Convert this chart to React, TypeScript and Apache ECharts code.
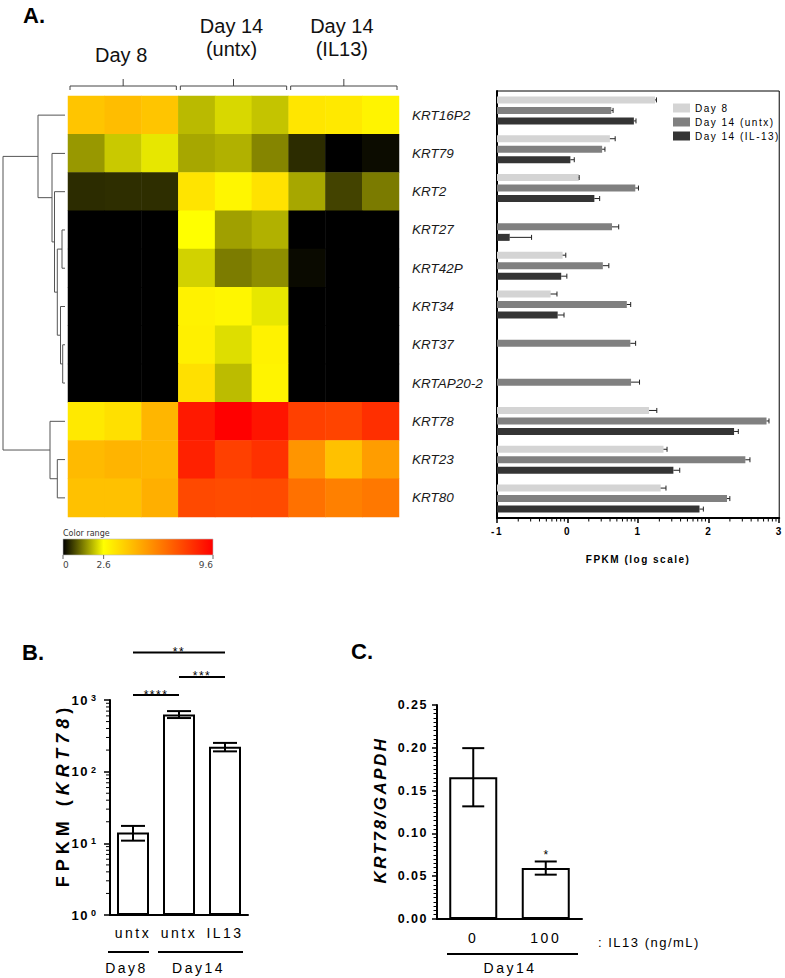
import React, { useEffect, useRef } from "react";
import * as echarts from "echarts";

// ---------------- data ----------------
const genes = ["KRT16P2", "KRT79", "KRT2", "KRT27", "KRT42P", "KRT34", "KRT37", "KRTAP20-2", "KRT78", "KRT23", "KRT80"];
const heatSamples = ["D8-1", "D8-2", "D8-3", "U-1", "U-2", "U-3", "I-1", "I-2", "I-3"];
const heatGroupLabels = ["Day 8", "Day 14\n(untx)", "Day 14\n(IL13)"];
const heatValues = [
  [4.2, 4.4, 4.2, 1.9, 2.2, 2.0, 3.3, 3.2, 2.9],
  [1.55, 2.05, 2.35, 1.7, 1.8, 1.35, 0.45, 0.0, 0.12],
  [0.45, 0.47, 0.47, 3.35, 2.85, 3.4, 1.7, 0.68, 1.25],
  [0, 0, 0, 2.6, 1.63, 1.8, 0, 0, 0],
  [0, 0, 0, 2.14, 1.26, 1.45, 0.1, 0, 0],
  [0, 0, 0, 2.95, 2.85, 2.35, 0, 0, 0],
  [0, 0, 0, 3.0, 2.26, 2.95, 0, 0, 0],
  [0, 0, 0, 3.45, 1.92, 2.9, 0, 0, 0],
  [3.2, 3.45, 4.6, 8.9, 9.6, 9.05, 7.85, 7.75, 8.3],
  [4.5, 4.65, 4.6, 8.7, 7.85, 8.25, 5.5, 4.3, 5.3],
  [4.3, 4.3, 4.8, 7.6, 7.5, 7.55, 6.5, 6.1, 6.3],
];
const colorRangeTicks = [0, 2.6, 9.6];
// dendrogram merges: [childA, childB, height]; leaves 0..10, new nodes numbered from 11
const dendroMerges: [number, number, number][] = [
  [6, 7, 2.3],
  [5, 11, 4.5],
  [3, 4, 3],
  [13, 12, 7.7],
  [2, 14, 10.5],
  [1, 15, 13],
  [0, 16, 27],
  [9, 10, 7.7],
  [8, 18, 15],
  [17, 19, 62],
];

const barSeriesNames = ["Day 8", "Day 14 (untx)", "Day 14 (IL-13)"];
const day8Log = [1.24, 0.6, 0.16, null, -0.07, -0.24, null, null, 1.155, 1.36, 1.32];
const day8Err = [0.02, 0.075, 0.005, null, 0.045, 0.09, null, null, 0.11, 0.05, 0.075];
const untxLog = [0.62, 0.49, 0.96, 0.63, 0.5, 0.84, 0.89, 0.9, 2.82, 2.52, 2.26];
const untxErr = [0.025, 0.04, 0.045, 0.095, 0.085, 0.055, 0.075, 0.12, 0.035, 0.065, 0.04];
const il13Log = [0.94, 0.04, 0.38, -0.82, -0.09, -0.14, null, null, 2.36, 1.5, 1.87];
const il13Err = [0.03, 0.055, 0.075, 0.31, 0.08, 0.09, null, null, 0.06, 0.09, 0.055];
const fpkmAxisMin = -1;
const fpkmAxisMax = 3;

const bCategories = ["untx", "untx", "IL13"];
const bGroups = ["Day8", "Day14"];
const bMeans = [14.2, 630, 222];
const bSem = [3.3, 70, 30];
const bSig: [number, number, number, string][] = [
  [0, 2, 4600, "**"],
  [1, 2, 2100, "***"],
  [0, 1, 1170, "****"],
];

const cCategories = ["0", "100"];
const cMeans = [0.1656, 0.0595];
const cSem = [0.034, 0.0077];
const cStars = ["", "*"];

// ---------------- styles ----------------
const FONT = "'Liberation Sans', Arial, sans-serif";
const FA = "xspa, 'Liberation Sans', Arial, sans-serif"; // letter-spaced 1.5px
const FB = "xspb, 'Liberation Sans', Arial, sans-serif"; // letter-spaced 2.5px
const FT = "xspt, 'Liberation Sans', Arial, sans-serif"; // letter-spaced 5px
const css = `
text[style*="xspa"]{letter-spacing:1.5px}
text[style*="xspb"]{letter-spacing:2.5px}
text[style*="xspt"]{letter-spacing:5px}
text[font-family*="xspa"]{letter-spacing:1.5px}
text[font-family*="xspb"]{letter-spacing:2.5px}
text[font-family*="xspt"]{letter-spacing:5px}
`;
const barColors = ["#d4d4d4", "#808080", "#343434"];
const SHIFT = -fpkmAxisMin; // bars grow from the axis minimum
const BAR_W = 7;
const BAR_STEP = 10.5;
const HM = { left: 68, top: 96, width: 331, height: 421 };

function heatColor(v: number) {
  if (v <= 2.6) {
    const t = Math.round((255 * v) / 2.6);
    return `rgb(${t},${t},0)`;
  }
  const g = Math.round(255 * (1 - (v - 2.6) / 7));
  return `rgb(255,${Math.max(0, g)},0)`;
}

function measure(str: string, font: string, spacing: number) {
  const ctx = document.createElement("canvas").getContext("2d")!;
  ctx.font = font;
  return ctx.measureText(str).width + spacing * str.length;
}

function buildOption() {
  // dendrogram links
  const nodeY: number[] = genes.map((_, i) => i);
  const nodeH: number[] = genes.map(() => 0);
  const dendroLinks = dendroMerges.map(([a, b, h]) => {
    const link = [nodeY[a], nodeY[b], nodeH[a], nodeH[b], h];
    nodeY.push((nodeY[a] + nodeY[b]) / 2);
    nodeH.push(h);
    return link;
  });

  const heatData: number[][] = [];
  heatValues.forEach((row, r) => row.forEach((v, c) => heatData.push([c, r, v])));
  const heatStops: string[] = [];
  for (let i = 0; i <= 96; i++) heatStops.push(heatColor(i / 10));

  const barLogs = [day8Log, untxLog, il13Log];
  const barErrs = [day8Err, untxErr, il13Err];
  const errA: number[][] = [];
  barLogs.forEach((arr, s) =>
    arr.forEach((v, g) => {
      if (v != null) errA.push([v + SHIFT, g, s, barErrs[s][g] as number]);
    })
  );
  const minorA: number[][] = [];
  for (let d = fpkmAxisMin; d < fpkmAxisMax; d++)
    for (let k = 2; k <= 9; k++) minorA.push([d + Math.log10(k) + SHIFT, 0]);
  const minorB: number[][] = [];
  for (let d = 0; d < 3; d++) for (let k = 2; k <= 9; k++) minorB.push([0, k * Math.pow(10, d)]);

  const cw = HM.width / heatSamples.length;
  const graphics: any[] = [];
  const T = (x: number, y: number, text: string, style: any, extra: any = {}) => ({
    type: "text",
    x,
    y,
    ...extra,
    style: { text, fill: "#000", textAlign: "left", textVerticalAlign: "middle", verticalAlign: "middle", ...style },
  });
  graphics.push(T(23, 15, "A.", { fontSize: 22, fontWeight: "bold", fontFamily: FONT }));
  graphics.push(T(22, 652, "B.", { fontSize: 22, fontWeight: "bold", fontFamily: FONT }));
  graphics.push(T(351, 651, "C.", { fontSize: 22, fontWeight: "bold", fontFamily: FONT }));

  heatGroupLabels.forEach((lab, g) => {
    const x1 = HM.left + 3 * g * cw + 2;
    const x2 = HM.left + 3 * (g + 1) * cw - 2;
    const xc = (x1 + x2) / 2;
    graphics.push({
      type: "polyline",
      shape: { points: [[x1, 90], [x1, 86], [x2, 86], [x2, 90]] },
      style: { stroke: "#444", lineWidth: 1, fill: null },
    });
    graphics.push({ type: "line", shape: { x1: xc, y1: 86, x2: xc, y2: 79 }, style: { stroke: "#444", lineWidth: 1 } });
    graphics.push(
      T(xc - 2, lab.includes("\n") ? 37 : 55, lab, { fontSize: 20, fontFamily: FONT, textAlign: "center", lineHeight: 23, fill: "#111" })
    );
  });

  // color range legend
  const crX = 63, crW = 150;
  graphics.push(T(crX, 533, "Color range", { fontSize: 8, fontFamily: "'DejaVu Sans'", fill: "#333" }));
  graphics.push({
    type: "rect",
    shape: { x: crX, y: 539, width: crW, height: 16 },
    style: {
      fill: new echarts.graphic.LinearGradient(0, 0, 1, 0, [
        { offset: 0, color: "#000000" },
        { offset: 2.6 / 9.6, color: "#ffff00" },
        { offset: 1, color: "#ff0000" },
      ]),
      stroke: "#bbb",
      lineWidth: 0.6,
    },
  });
  colorRangeTicks.forEach((v, i) => {
    const x = crX + (v / colorRangeTicks[colorRangeTicks.length - 1]) * crW;
    graphics.push({ type: "line", shape: { x1: x, y1: 555, x2: x, y2: 559 }, style: { stroke: "#666", lineWidth: 1 } });
    graphics.push(
      T(x, 565, String(v), {
        fontSize: 9,
        fontFamily: "'DejaVu Sans'",
        fill: "#444",
        textAlign: i === 0 ? "left" : i === colorRangeTicks.length - 1 ? "right" : "center",
      })
    );
  });

  // panel B group lines
  const bGroupSpans = [[108, 149], [158, 243]];
  bGroups.forEach((g, i) => {
    const [x1, x2] = bGroupSpans[i];
    graphics.push({ type: "line", shape: { x1, y1: 952, x2, y2: 952 }, style: { stroke: "#000", lineWidth: 2 } });
    graphics.push(T((x1 + x2) / 2 - 2, 968, g, { fontSize: 14, fontFamily: FB, textAlign: "center" }));
  });
  // panel C group line
  graphics.push({ type: "line", shape: { x1: 447, y1: 954, x2: 578, y2: 954 }, style: { stroke: "#000", lineWidth: 2 } });
  graphics.push(T(510, 968, "Day14", { fontSize: 14, fontFamily: FB, textAlign: "center" }));
  graphics.push(T(598, 942, ": IL13 (ng/mL)", { fontSize: 13, fontFamily: FA }));

  // panel B y title
  const tParts = [
    { t: "FPKM (", s: "normal" },
    { t: "KRT78", s: "italic" },
    { t: ")", s: "normal" },
  ];
  const widths = tParts.map((p) => measure(p.t, `${p.s} bold 18px 'Liberation Sans'`, 5));
  const total = widths.reduce((a, b) => a + b, 0);
  let yCur = 795 + total / 2;
  tParts.forEach((p, i) => {
    graphics.push(
      T(63, yCur, p.t, { fontSize: 18, fontWeight: "bold", fontStyle: p.s, fontFamily: FT }, { rotation: Math.PI / 2 })
    );
    yCur -= widths[i];
  });
  // panel C y title
  graphics.push(
    T(380, 810, "KRT78/GAPDH", { fontSize: 17, fontWeight: "bold", fontStyle: "italic", fontFamily: FB, textAlign: "center" }, { rotation: Math.PI / 2 })
  );

  const blackLine = { lineStyle: { color: "#000", width: 2 } };

  return {
    animation: false,
    backgroundColor: "#fff",
    grid: [
      { left: HM.left, top: HM.top, width: HM.width, height: HM.height },
      { left: 3, top: HM.top, width: 62, height: HM.height },
      { left: 497, top: 91, width: 284, height: 427, show: true, borderColor: "#000", borderWidth: 1, backgroundColor: "transparent" },
      { left: 110, top: 700, width: 138, height: 215 },
      { left: 437, top: 705, width: 145, height: 214 },
    ],
    xAxis: [
      { type: "category", gridIndex: 0, data: heatSamples, show: false },
      { type: "value", gridIndex: 1, min: 0, max: 62, inverse: true, show: false },
      {
        type: "value",
        gridIndex: 2,
        min: fpkmAxisMin + SHIFT,
        max: fpkmAxisMax + SHIFT,
        interval: 1,
        axisLine: { show: true, ...blackLine },
        axisTick: { show: true, length: 5, lineStyle: { color: "#000", width: 1.5 } },
        splitLine: { show: false },
        axisLabel: {
          formatter: (v: number) => String(Math.round(v - SHIFT)),
          fontSize: 10,
          fontWeight: "bold",
          fontFamily: FA,
          color: "#000",
          margin: 8,
        },
        name: "FPKM (log scale)",
        nameLocation: "middle",
        nameGap: 36,
        nameTextStyle: { fontSize: 10, fontWeight: "bold", fontFamily: FA, color: "#000" },
      },
      {
        type: "category",
        gridIndex: 3,
        data: ["b0", "b1", "b2"],
        axisLine: blackLine,
        axisTick: { alignWithLabel: true, length: 5, lineStyle: { color: "#000", width: 2 } },
        axisLabel: { formatter: (_v: string, i: number) => bCategories[i], fontSize: 14, fontFamily: FB, color: "#000", margin: 11 },
      },
      {
        type: "category",
        gridIndex: 4,
        data: cCategories,
        axisLine: blackLine,
        axisTick: { alignWithLabel: true, length: 5, lineStyle: { color: "#000", width: 2 } },
        axisLabel: { fontSize: 14, fontFamily: FB, color: "#000", margin: 12 },
      },
    ],
    yAxis: [
      {
        type: "category",
        gridIndex: 0,
        data: genes,
        inverse: true,
        position: "right",
        axisLine: { show: false },
        axisTick: { show: false },
        axisLabel: { interval: 0, margin: 13, fontSize: 13.5, fontStyle: "italic", fontFamily: FONT, color: "#1a1a1a" },
      },
      { type: "value", gridIndex: 1, min: -0.5, max: genes.length - 0.5, inverse: true, show: false },
      {
        type: "category",
        gridIndex: 2,
        data: genes,
        inverse: true,
        axisLine: blackLine,
        axisTick: { alignWithLabel: true, interval: 0, length: 4, lineStyle: { color: "#000", width: 1.5 } },
        axisLabel: { show: false, interval: 0 },
      },
      {
        type: "log",
        logBase: 10,
        gridIndex: 3,
        min: 1,
        max: 1000,
        axisLine: { show: true, ...blackLine },
        axisTick: { show: true, length: 6, lineStyle: { color: "#000", width: 1.5 } },
        splitLine: { show: false },
        axisLabel: {
          margin: 14,
          formatter: (v: number) => `{m|10}{e|${Math.round(Math.log10(v))}}`,
          rich: {
            m: { fontSize: 13, fontWeight: "bold", fontFamily: FA, color: "#000" },
            e: { fontSize: 9, fontWeight: "bold", fontFamily: FONT, color: "#000", verticalAlign: "top", padding: [0, 0, 0, 2] },
          },
        },
      },
      {
        type: "value",
        gridIndex: 4,
        min: 0,
        max: 0.25,
        interval: 0.05,
        axisLine: { show: true, ...blackLine },
        axisTick: { show: true, length: 5, lineStyle: { color: "#000", width: 1.5 } },
        minorTick: { show: true, splitNumber: 10, length: 3.5, lineStyle: { color: "#000", width: 1 } },
        splitLine: { show: false },
        axisLabel: { formatter: (v: number) => v.toFixed(2), fontSize: 12.5, fontWeight: "bold", fontFamily: FA, color: "#000", margin: 9 },
      },
    ],
    visualMap: [
      { type: "continuous", show: false, min: 0, max: 9.6, seriesIndex: 0, dimension: 2, inRange: { color: heatStops } },
    ],
    legend: {
      data: barSeriesNames,
      orient: "vertical",
      left: 668,
      top: 98,
      itemWidth: 17,
      itemHeight: 9,
      itemGap: 4,
      icon: "rect",
      selectedMode: false,
      textStyle: { fontSize: 10, fontFamily: FA, color: "#000" },
    },
    series: [
      { type: "heatmap", xAxisIndex: 0, yAxisIndex: 0, data: heatData, itemStyle: { borderWidth: 0 } },
      {
        type: "custom",
        xAxisIndex: 1,
        yAxisIndex: 1,
        data: dendroLinks,
        encode: { x: [2, 3, 4], y: [0, 1] },
        clip: false,
        renderItem: (_p: any, api: any) => {
          const p1 = api.coord([api.value(2), api.value(0)]);
          const p2 = api.coord([api.value(4), api.value(0)]);
          const p3 = api.coord([api.value(4), api.value(1)]);
          const p4 = api.coord([api.value(3), api.value(1)]);
          return { type: "polyline", shape: { points: [p1, p2, p3, p4] }, style: { stroke: "#555", lineWidth: 1, fill: null } };
        },
      },
      ...barSeriesNames.map((name, s) => ({
        type: "bar",
        name,
        xAxisIndex: 2,
        yAxisIndex: 2,
        barWidth: BAR_W,
        barGap: "50%",
        itemStyle: { color: barColors[s] },
        data: barLogs[s].map((v) => (v == null ? "-" : v + SHIFT)),
      })),
      {
        type: "custom",
        xAxisIndex: 2,
        yAxisIndex: 2,
        z: 5,
        data: errA,
        encode: { x: 0, y: 1 },
        clip: false,
        renderItem: (_p: any, api: any) => {
          const v = api.value(0), g = api.value(1), s = api.value(2), e = api.value(3);
          const base = api.coord([v, g]);
          const end = api.coord([v + e, g]);
          const y = base[1] + (s - 1) * BAR_STEP;
          return {
            type: "group",
            children: [
              { type: "line", shape: { x1: base[0], y1: y, x2: end[0], y2: y }, style: { stroke: "#222", lineWidth: 1 } },
              { type: "line", shape: { x1: end[0], y1: y - 2.5, x2: end[0], y2: y + 2.5 }, style: { stroke: "#222", lineWidth: 1 } },
            ],
          };
        },
      },
      {
        type: "custom",
        xAxisIndex: 2,
        yAxisIndex: 2,
        z: 5,
        data: minorA,
        encode: { x: 0, y: 1 },
        clip: false,
        renderItem: (p: any, api: any) => {
          const x = api.coord([api.value(0), 0])[0];
          const y0 = p.coordSys.y + p.coordSys.height;
          return { type: "line", shape: { x1: x, y1: y0, x2: x, y2: y0 + 3.5 }, style: { stroke: "#000", lineWidth: 1 } };
        },
      },
      {
        type: "bar",
        xAxisIndex: 3,
        yAxisIndex: 3,
        barWidth: 32,
        itemStyle: { color: "#fff", borderColor: "#000", borderWidth: 2 },
        data: bMeans,
      },
      {
        type: "custom",
        xAxisIndex: 3,
        yAxisIndex: 3,
        z: 5,
        data: bMeans.map((m, i) => [i, m, bSem[i]]),
        encode: { x: 0, y: 1 },
        clip: false,
        renderItem: (_p: any, api: any) => {
          const i = api.value(0), m = api.value(1), s = api.value(2);
          const x = api.coord([i, m])[0];
          const yt = api.coord([i, m + s])[1];
          const yb = api.coord([i, m - s])[1];
          const st = { stroke: "#000", lineWidth: 2 };
          return {
            type: "group",
            children: [
              { type: "line", shape: { x1: x, y1: yt, x2: x, y2: yb }, style: st },
              { type: "line", shape: { x1: x - 12, y1: yt, x2: x + 12, y2: yt }, style: st },
              { type: "line", shape: { x1: x - 12, y1: yb, x2: x + 12, y2: yb }, style: st },
            ],
          };
        },
      },
      {
        type: "custom",
        xAxisIndex: 3,
        yAxisIndex: 3,
        z: 5,
        data: minorB,
        encode: { x: 0, y: 1 },
        clip: false,
        renderItem: (p: any, api: any) => {
          const y = api.coord([0, api.value(1)])[1];
          const x0 = p.coordSys.x;
          return { type: "line", shape: { x1: x0 - 4, y1: y, x2: x0, y2: y }, style: { stroke: "#000", lineWidth: 1 } };
        },
      },
      {
        type: "custom",
        xAxisIndex: 3,
        yAxisIndex: 3,
        z: 5,
        data: bSig.map((s) => [s[0], s[1], s[2]]),
        encode: { x: 0, y: 2 },
        clip: false,
        renderItem: (p: any, api: any) => {
          const p1 = api.coord([api.value(0), api.value(2)]);
          const p2 = api.coord([api.value(1), api.value(2)]);
          return {
            type: "group",
            children: [
              { type: "line", shape: { x1: p1[0], y1: p1[1], x2: p2[0], y2: p1[1] }, style: { stroke: "#000", lineWidth: 2 } },
              {
                type: "text",
                x: (p1[0] + p2[0]) / 2,
                y: p1[1] - 0.5,
                style: { text: bSig[p.dataIndex][3], textAlign: "center", textVerticalAlign: "middle", verticalAlign: "middle", fontSize: 12, fontFamily: FA, fill: "#000" },
              },
            ],
          };
        },
      },
      {
        type: "bar",
        xAxisIndex: 4,
        yAxisIndex: 4,
        barWidth: 48,
        itemStyle: { color: "#fff", borderColor: "#000", borderWidth: 2 },
        data: cMeans,
      },
      {
        type: "custom",
        xAxisIndex: 4,
        yAxisIndex: 4,
        z: 5,
        data: cMeans.map((m, i) => [i, m, cSem[i]]),
        encode: { x: 0, y: 1 },
        clip: false,
        renderItem: (p: any, api: any) => {
          const i = api.value(0), m = api.value(1), s = api.value(2);
          const x = api.coord([i, m])[0];
          const yt = api.coord([i, m + s])[1];
          const yb = api.coord([i, m - s])[1];
          const st = { stroke: "#000", lineWidth: 2 };
          return {
            type: "group",
            children: [
              { type: "line", shape: { x1: x, y1: yt, x2: x, y2: yb }, style: st },
              { type: "line", shape: { x1: x - 11, y1: yt, x2: x + 11, y2: yt }, style: st },
              { type: "line", shape: { x1: x - 11, y1: yb, x2: x + 11, y2: yb }, style: st },
              {
                type: "text",
                x,
                y: yt - 6,
                style: { text: cStars[p.dataIndex], textAlign: "center", textVerticalAlign: "middle", verticalAlign: "middle", fontSize: 12, fontFamily: FONT, fill: "#000" },
              },
            ],
          };
        },
      },
    ],
    graphic: graphics,
  };
}

export default function App() {
  const ref = useRef<HTMLDivElement>(null);
  useEffect(() => {
    const chart = echarts.init(ref.current!, null, { renderer: "svg" });
    chart.setOption(buildOption() as any);
    return () => chart.dispose();
  }, []);
  return (
    <>
      <style>{css}</style>
      <div ref={ref} style={{ position: "absolute", left: 0, top: 0, width: 785, height: 978, background: "#fff" }} />
    </>
  );
}
